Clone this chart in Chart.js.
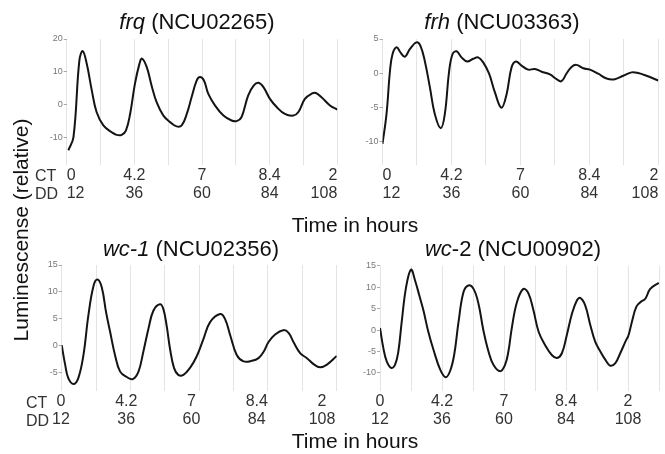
<!DOCTYPE html>
<html>
<head>
<meta charset="utf-8">
<script src="https://cdn.jsdelivr.net/npm/chart.js@4.4.1/dist/chart.umd.min.js"></script>
<style>
  body { margin: 0; background: #fff; }
  #fig { position: relative; width: 665px; height: 454px; overflow: hidden;
         font-family: "Liberation Sans", Arial, sans-serif; color: #111; }
  #fig canvas { position: absolute; }
  .txt { position: absolute; white-space: nowrap; line-height: 1; }
  .title { font-size: 22px; transform: translateX(-50%); }
  .xlab { font-size: 21px; transform: translateX(-50%); }
  .row { font-size: 16px; color: #333; }
  #ylab { font-size: 21px; transform: translate(-50%, -50%) rotate(-90deg); }
</style>
</head>
<body>
<div id="fig">
  <canvas id="c-frq"></canvas>
  <canvas id="c-frh"></canvas>
  <canvas id="c-wc1"></canvas>
  <canvas id="c-wc2"></canvas>

  <div class="txt title" style="left:197px; top:11px;"><i>frq</i> (NCU02265)</div>
  <div class="txt title" style="left:502px; top:11px;"><i>frh</i> (NCU03363)</div>
  <div class="txt title" style="left:191px; top:238px;"><i>wc-1</i> (NCU02356)</div>
  <div class="txt title" style="left:513px; top:238px;"><i>wc</i>-2 (NCU00902)</div>

  <div class="txt xlab" style="left:355px; top:214px;">Time in hours</div>
  <div class="txt xlab" style="left:355px; top:430px;">Time in hours</div>
  <div class="txt" id="ylab" style="left:20px; top:230px;">Luminescense (relative)</div>

  <div class="txt row" style="left:35px; top:168px;">CT</div>
  <div class="txt row" style="left:35px; top:186px;">DD</div>
  <div class="txt row" style="left:26px; top:395px;">CT</div>
  <div class="txt row" style="left:26px; top:413px;">DD</div>
</div>

<script>
/* ── Data ─────────────────────────────────────────────── */

// vertical grid every 12 h, labels every 24 h
const gridHours = [12, 24, 36, 48, 60, 72, 84, 96, 108];
const gridHoursLong = [12, 24, 36, 48, 60, 72, 84, 96, 108, 120];
const ddLabels = [12, 36, 60, 84, 108];
const ctLabels = ["0", "4.2", "7", "8.4", "2"];

const frqTicks = [20, 10, 0, -10];
const frhTicks = [5, 0, -5, -10];
const wc1Ticks = [15, 10, 5, 0, -5];
const wc2Ticks = [15, 10, 5, 0, -5, -10];

const frqHours = [12.6, 14.4, 16.5, 17.7, 19.1, 20.9, 22.6, 25, 28, 29.7, 31.5, 33, 34.5, 36.2, 37.8,
  38.7, 40.4, 42.1, 43.9, 46.3, 48.7, 51, 52.8, 54.6, 56.3, 58.1, 59.3, 60.7, 62.2, 64.6, 67.6, 70.5,
  72.3, 74, 76.4, 78.4, 80, 81.8, 84.1, 86.5, 89.4, 92.4, 94.2, 96.5, 98.9, 100.4, 102.4, 105.4, 108];
const frqValues = [-14, -10, 13.5, 16.3, 12.5, 4.3, -2.3, -6.4, -8.5, -9.3, -9.3, -8, -2.9, 6.3, 12.4,
  14, 11.4, 5.8, 0.7, -3.4, -5.4, -6.7, -6.4, -2.9, 2.2, 7.3, 8.4, 7.3, 3.3, -0.3, -3.4, -4.9,
  -5.1, -3.9, 2.8, 5.8, 6.6, 5.3, 1.7, -0.8, -2.9, -3.4, -2.3, 1.7, 3.3, 3.5, 2.2, -0.3, -1.6];

const frhHours = [12, 13.4, 14.6, 15.5, 16.9, 18.3, 19.8, 21.5, 23.8, 25.2, 26.7, 28.5, 30.2, 32.3, 33.7,
  35.2, 36.4, 37.8, 39.5, 41.5, 43.6, 45.3, 47, 49.1, 51.1, 53.4, 55.2, 56.9, 58.4, 60.4, 62.7, 65,
  67.4, 70.3, 72.6, 74.3, 76, 77.8, 79.5, 81.9, 84.2, 87.1, 90, 92.9, 95.8, 98.7, 101, 103.9, 108];
const frhValues = [-10.4, -6, 0.3, 2.8, 3.8, 3, 2.4, 3.5, 4.5, 4, 1.8, -2.1, -6, -8.1, -6,
  0.3, 2.8, 3.2, 2.3, 1.7, 2.1, 2.3, 1.6, -0.1, -2.8, -5.1, -3.1, 0.8, 1.7, 1.1, 0.5, 0.6,
  0.2, -0.2, -0.9, -1.2, -0.1, 0.9, 1.2, 0.7, 0.5, -0.1, -0.8, -0.9, -0.4, 0.1, 0, -0.4, -1.1];

const wc1Hours = [12, 13.2, 14.3, 16.1, 17.8, 19.6, 21.3, 23.1, 24.5, 26, 27.5, 28.9, 30.6, 32.4, 34.7,
  36.8, 38.8, 40.5, 42.3, 44, 46.3, 47.5, 48.7, 49.8, 51.2, 52.7, 54.5, 56.8, 59.1, 61.5, 63.8, 67.3,
  69, 70.8, 73.1, 75.5, 78.4, 80.7, 82.5, 84.2, 86.5, 89.4, 91.2, 92.9, 95.3, 97.6, 99.9, 102.2, 104.6, 108];
const wc1Values = [0.1, -3.5, -6, -7.1, -6, -1.7, 5.6, 11.1, 12.3, 10.8, 6.2, 2.6, -1.7, -4.8, -5.8,
  -6.2, -4.8, -1.1, 3.2, 6.5, 7.7, 6.8, 3.5, -0.5, -4.1, -5.4, -5.4, -4.1, -2, 1.3, 4.4, 5.9,
  5, 2, -1.7, -2.9, -2.8, -2.3, -1.1, 0.7, 2.1, 2.9, 2.4, 0.7, -1.4, -2.3, -3.4, -4, -3.5, -1.9];

const wc2Hours = [12, 13.3, 14.6, 16.3, 17.8, 19.1, 20.4, 22.1, 24, 25.6, 27.2, 28.8, 30.7, 32.7, 35.3,
  37.4, 39.1, 40.7, 42.4, 44.3, 46.2, 48.2, 50.1, 52, 54, 55.9, 58.5, 60.4, 61.7, 63, 65, 67.5,
  69.5, 71.4, 73.4, 75.9, 78.5, 80.5, 82.4, 84.3, 86.3, 88.2, 89.5, 91.4, 93.4, 95.3, 97.3, 99.2,
  101.1, 103.1, 105, 107, 108.2, 109.5, 111.2, 112.8, 114.7, 116.6, 119.9];
const wc2Values = [0.5, -4.2, -7.3, -8.8, -8.1, -5, 1.9, 10, 14.1, 11.5, 8.1, 4.6, -0.4, -4.6, -9.2,
  -11, -9.6, -5.8, 1.9, 8.8, 10.4, 9.6, 6.2, 0, -5, -8.1, -9.6, -8.1, -5, 0.4, 6.5, 9.6,
  8.5, 4.6, -0.4, -3.5, -5.8, -6.5, -5.4, -1.2, 3.8, 6.9, 7.5, 5.8, 1.2, -2.7, -5, -6.9,
  -8.3, -7.7, -5.4, -2.7, -1.2, 1.9, 5.4, 6.5, 7.3, 9.6, 11];

/* ── Panels ───────────────────────────────────────────── */

const FONT = "'Liberation Sans', Arial, sans-serif";

function tickLabel(v) {
  const k = ddLabels.indexOf(v);
  return k < 0 ? "" : [ctLabels[k], String(ddLabels[k])];
}

const labelTicks = {
  autoSkip: false,
  maxRotation: 0,
  padding: 2,
  color: "#333",
  font: { family: FONT, size: 16, lineHeight: 1.125 },
  callback: tickLabel,
};

// opts.align: tick label alignment; opts.labelRange: separate hour range for the label row
// (the lower-left panel's labels were set slightly tighter than its grid in the original)
function makePanel(id, box, plot, hours, values, yRange, yTicks, xTicks, opts = {}) {
  const canvas = document.getElementById(id);
  canvas.width = box.w;
  canvas.height = box.h;
  canvas.style.left = box.x + "px";
  canvas.style.top = box.y + "px";

  const yw = plot.left - box.x;
  const xh = box.y + box.h - plot.bottom;
  const split = !!opts.labelRange;

  const scales = {
    x: {
      type: "linear",
      min: xTicks[0],
      max: xTicks[xTicks.length - 1],
      afterBuildTicks: (s) => { s.ticks = xTicks.map((v) => ({ value: v })); },
      afterFit: (s) => { s.height = split ? 0 : xh; s.paddingLeft = 0; s.paddingRight = 0; },
      grid: { color: "#e4e4e4", lineWidth: 1, drawTicks: false },
      border: { display: false },
      ticks: split ? { display: false } : { ...labelTicks, align: opts.align || "center" },
    },
    y: {
      min: yRange[0],
      max: yRange[1],
      afterBuildTicks: (s) => { s.ticks = yTicks.map((v) => ({ value: v })); },
      afterFit: (s) => { s.width = yw; s.paddingTop = 0; s.paddingBottom = 0; },
      grid: { drawOnChartArea: false, tickLength: 3, color: "#aaa" },
      border: { display: false },
      ticks: { color: "#777", padding: 1, font: { family: FONT, size: 9 } },
    },
  };

  if (split) {
    scales.xl = {
      type: "linear",
      position: "bottom",
      min: opts.labelRange[0],
      max: opts.labelRange[1],
      afterBuildTicks: (s) => { s.ticks = ddLabels.map((v) => ({ value: v })); },
      afterFit: (s) => { s.height = xh; s.paddingLeft = 0; s.paddingRight = 0; },
      grid: { display: false, drawTicks: false },
      border: { display: false },
      ticks: labelTicks,
    };
  }

  new Chart(canvas, {
    type: "line",
    data: {
      datasets: [{
        data: hours.map((h, i) => ({ x: h, y: values[i] })),
        borderColor: "#141414",
        borderWidth: 2,
        pointRadius: 0,
        tension: 0.4,
        fill: false,
      }],
    },
    options: {
      responsive: false,
      animation: false,
      devicePixelRatio: 1,
      layout: { padding: { left: 0, top: plot.top - box.y, right: box.x + box.w - plot.right, bottom: 0 } },
      plugins: { legend: { display: false }, tooltip: { enabled: false } },
      scales,
    },
  });
}

makePanel("c-frq", { x: 20, y: 30, w: 330, h: 185 }, { left: 66.7, right: 337.3, top: 39, bottom: 165 },
  frqHours, frqValues, [-18.5, 20], frqTicks, gridHours, { align: "inner" });
makePanel("c-frh", { x: 350, y: 30, w: 315, h: 185 }, { left: 382.5, right: 658.3, top: 39, bottom: 165 },
  frhHours, frhValues, [-13.5, 5], frhTicks, gridHours, { align: "inner" });
makePanel("c-wc1", { x: 20, y: 255, w: 330, h: 185 }, { left: 61.7, right: 336.7, top: 265, bottom: 391 },
  wc1Hours, wc1Values, [-8.4, 15], wc1Ticks, gridHours, { labelRange: [12.26, 113.4] });
makePanel("c-wc2", { x: 350, y: 255, w: 315, h: 185 }, { left: 380, right: 659, top: 265.7, bottom: 391 },
  wc2Hours, wc2Values, [-14.2, 15], wc2Ticks, gridHoursLong);
</script>
</body>
</html>
